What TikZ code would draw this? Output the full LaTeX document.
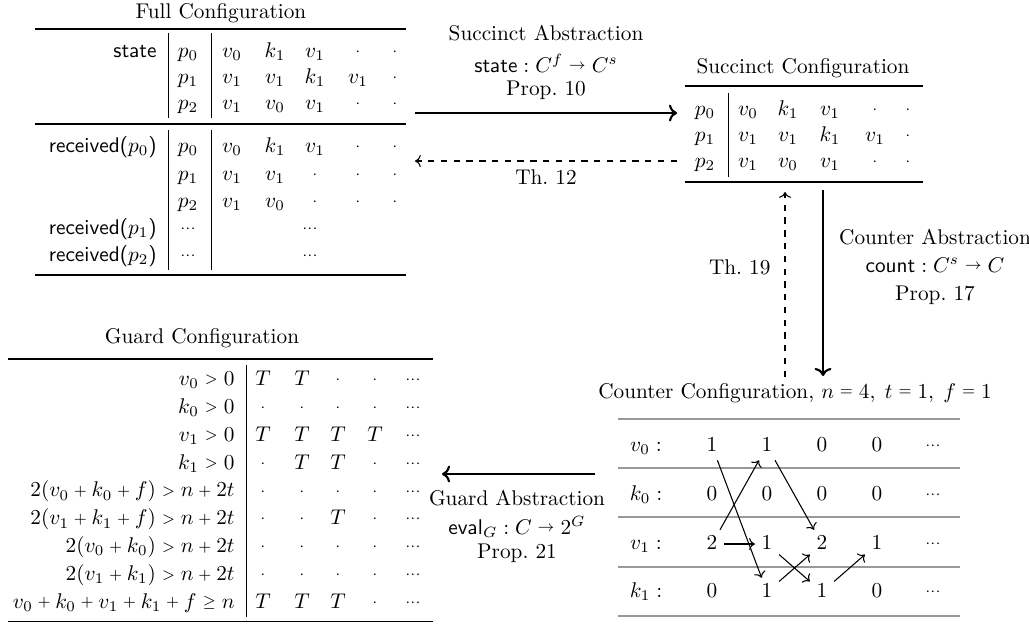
\documentclass[tikz,border=0pt]{standalone}
\usetikzlibrary{arrows.meta}
\newcommand{\sPlus}{\mathbin{\vcenter{\hbox{$\scriptstyle+$}}}}
\newcommand{\sGt}{\mathrel{\vcenter{\hbox{$\scriptstyle>$}}}}
\newcommand{\sEq}{\mathrel{\vcenter{\hbox{$\scriptstyle=$}}}}
\newcommand{\sGeq}{\mathrel{\vcenter{\hbox{$\scriptstyle\geq$}}}}
\newcommand{\sTo}{\mathrel{\vcenter{\hbox{$\scriptstyle\rightarrow$}}}}
\newcommand{\sDot}{\vcenter{\hbox{$\scriptstyle\cdot$}}}
\newcommand{\sDots}{\vcenter{\hbox{$\scriptstyle\cdots$}}}
\begin{document}
\begin{tikzpicture}[x=0.47pt,y=-0.47pt,
  cell/.style={inner sep=0pt,text height=7pt,text depth=2pt},
  lbl/.style={cell,anchor=east},
  cnt/.style={inner xsep=3pt,inner ysep=2pt,text height=7pt,text depth=2pt},
  heavy/.style={line width=0.8pt},
  vbar/.style={line width=0.4pt},
  gridline/.style={line width=0.6pt,draw=black!40},
  mainarrow/.style={line width=1pt,->},
  dasharrow/.style={line width=0.5pt,dashed,->},
  cntarrow/.style={line width=0.5pt,->}]
\useasboundingbox (0,0) rectangle (1029,623);

% ---------- Full configuration ----------
\node (fulltitle) at (221,13) {Full Configuration};
\draw[heavy] (35,29) -- (406,29);
\draw[heavy] (35,124) -- (406,124);
\draw[heavy] (35,275) -- (406,275);
\draw[vbar] (168,33) -- (168,118) (211,33) -- (211,118);
\draw[vbar] (168,130) -- (168,270) (211,130) -- (211,270);
\node[lbl] (fstate) at (157,52) {\textsf{state}};
\node[lbl] (frec0) at (157,147) {\textsf{received(}$p_0$\textsf{)}};
\node[lbl] (frec1) at (157,229) {\textsf{received(}$p_1$\textsf{)}};
\node[lbl] (frec2) at (157,256) {\textsf{received(}$p_2$\textsf{)}};
\foreach \yy/\pp/\qa/\qb/\qc/\qd/\qe [count=\i] in
  {52/p_0/v_0/k_1/v_1/\sDot/\sDot,
   78/p_1/v_1/v_1/k_1/v_1/\sDot,
   104/p_2/v_1/v_0/v_1/\sDot/\sDot,
   147/p_0/v_0/k_1/v_1/\sDot/\sDot,
   175/p_1/v_1/v_1/\sDot/\sDot/\sDot,
   202/p_2/v_1/v_0/\sDot/\sDot/\sDot} {
  \node[cell] (f-\i-p) at (188,\yy) {$\pp$};
  \foreach \xx/\tt [count=\j] in {232/\qa,275/\qb,315/\qc,358/\qd,395/\qe}
    \node[cell] (f-\i-\j) at (\xx,\yy) {$\tt$};
}
\node[cell] (f-7-p) at (188,229) {$\sDots$};
\node[cell] (f-7-d) at (310,229) {$\sDots$};
\node[cell] (f-8-p) at (188,256) {$\sDots$};
\node[cell] (f-8-d) at (310,256) {$\sDots$};

% ---------- Succinct abstraction arrows ----------
\node (sa1) at (546,33) {Succinct Abstraction};
\node (sa2) at (546,63) {$\mathsf{state} : C^f \sTo C^s$};
\node (sa3) at (546,90) {Prop.~10};
\coordinate (saL) at (415,113);
\coordinate (saR) at (677,113);
\draw[mainarrow] (saL) -- (saR);
\coordinate (thL) at (415,161);
\coordinate (thR) at (677,161);
\draw[dasharrow] (thR) -- (thL);
\node (th12) at (546,177) {Th.~12};

% ---------- Succinct configuration ----------
\node (sctitle) at (803,68) {Succinct Configuration};
\draw[heavy] (685,86) -- (923,86);
\draw[heavy] (685,182) -- (923,182);
\draw[vbar] (728,93) -- (728,177);
\foreach \yy/\pp/\qa/\qb/\qc/\qd/\qe [count=\i] in
  {110/p_0/v_0/k_1/v_1/\sDot/\sDot,
   136/p_1/v_1/v_1/k_1/v_1/\sDot,
   162/p_2/v_1/v_0/v_1/\sDot/\sDot} {
  \node[cell] (s-\i-p) at (705,\yy) {$\pp$};
  \foreach \xx/\tt [count=\j] in {748/\qa,788/\qb,830/\qc,875/\qd,908/\qe}
    \node[cell] (s-\i-\j) at (\xx,\yy) {$\tt$};
}

% ---------- Counter abstraction arrows ----------
\coordinate (cdT) at (785,192);
\coordinate (cdB) at (785,377);
\draw[dasharrow] (cdB) -- (cdT);
\node[anchor=east] (th19) at (778,267) {Th.~19};
\coordinate (caT) at (823,190);
\coordinate (caB) at (823,376);
\draw[mainarrow] (caT) -- (caB);
\node (ca1) at (935,237) {Counter Abstraction};
\node (ca2) at (935,265) {$\mathsf{count} : C^s \sTo C$};
\node (ca3) at (935,295) {Prop.~17};

% ---------- Counter configuration ----------
\node (cctitle) at (795,393) {Counter Configuration, $n\sEq 4,\; t\sEq 1,\; f\sEq 1$};
\foreach \yy in {419,468,517,567,616}
  \draw[gridline] (618,\yy) -- (960,\yy);
\foreach \lab/\yy/\na/\nb/\nc/\nd [count=\i] in
  {v_0/446/1/1/0/0, k_0/495/0/0/0/0, v_1/544/2/1/2/1, k_1/592/0/1/1/0} {
  \node[cell] (cl-\i) at (646,\yy) {$\lab:$};
  \foreach \xx/\vv [count=\j] in {712/\na,767/\nb,822/\nc,877/\nd}
    \node[cnt] (c-\j-\i) at (\xx,\yy) {$\vv$};
  \node[cell] (c-5-\i) at (933,\yy) {$\sDots$};
}
\draw[cntarrow] (c-1-1) -- (c-2-4);
\draw[cntarrow] (c-1-3) -- (c-2-1);
\draw[cntarrow] (c-1-3) -- (c-2-3);
\draw[cntarrow] (c-2-1) -- (c-3-3);
\draw[cntarrow] (c-2-3) -- (c-3-4);
\draw[cntarrow] (c-2-4) -- (c-3-3);
\draw[cntarrow] (c-3-4) -- (c-4-3);

% ---------- Guard abstraction arrow ----------
\coordinate (gaR) at (595,474);
\coordinate (gaL) at (442,474);
\draw[mainarrow] (gaR) -- (gaL);
\node (ga1) at (517,498) {Guard Abstraction};
\node (ga2) at (517,527) {$\mathsf{eval}_G : C \sTo 2^G$};
\node (ga3) at (517,553) {Prop.~21};

% ---------- Guard configuration ----------
\node (gctitle) at (202,338) {Guard Configuration};
\draw[heavy] (8,359) -- (433,359);
\draw[heavy] (8,621.5) -- (433,621.5);
\draw[vbar] (246,365) -- (246,617);
\foreach \lab/\qa/\qb/\qc/\qd [count=\i] in
  {{v_0\sGt 0}/T/T/\sDot/\sDot,
   {k_0\sGt 0}/\sDot/\sDot/\sDot/\sDot,
   {v_1\sGt 0}/T/T/T/T,
   {k_1\sGt 0}/\sDot/T/T/\sDot,
   {2(v_0\sPlus k_0\sPlus f)\sGt n\sPlus 2t}/\sDot/\sDot/\sDot/\sDot,
   {2(v_1\sPlus k_1\sPlus f)\sGt n\sPlus 2t}/\sDot/\sDot/T/\sDot,
   {2(v_0\sPlus k_0)\sGt n\sPlus 2t}/\sDot/\sDot/\sDot/\sDot,
   {2(v_1\sPlus k_1)\sGt n\sPlus 2t}/\sDot/\sDot/\sDot/\sDot,
   {v_0\sPlus k_0\sPlus v_1\sPlus k_1\sPlus f\sGeq n}/T/T/T/\sDot} {
  \pgfmathsetmacro{\yy}{380+27.9*(\i-1)}
  \node[lbl] (g-\i-l) at (235,\yy) {$\lab$};
  \foreach \xx/\tt [count=\j] in {263/\qa,302/\qb,338/\qc,375/\qd}
    \node[cell] (g-\i-\j) at (\xx,\yy) {$\tt$};
  \node[cell] (g-\i-5) at (413,\yy) {$\sDots$};
}
\end{tikzpicture}
\end{document}
